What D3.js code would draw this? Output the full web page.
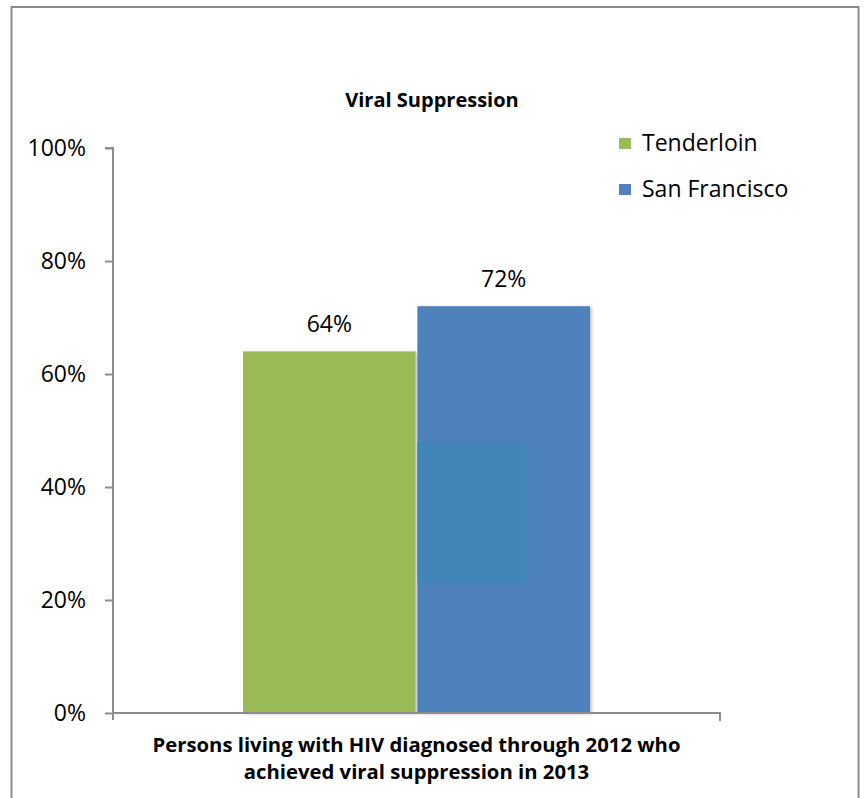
<!DOCTYPE html>
<html>
<head>
<meta charset="utf-8">
<script src="https://cdn.jsdelivr.net/npm/d3@7"></script>
<style>
  html, body { margin: 0; padding: 0; background: #fff; }
  svg { display: block; font-family: "Open Sans", sans-serif; }
</style>
</head>
<body>
<svg id="chart" width="864" height="798"></svg>
<script>
// Chart data
const category = "Persons living with HIV diagnosed through 2012 who achieved viral suppression in 2013";
const categoryLines = ["Persons living with HIV diagnosed through 2012 who", "achieved viral suppression in 2013"];
const seriesNames = ["Tenderloin", "San Francisco"];
const seriesValues = [0.64, 0.72];
const seriesColors = ["#9bbb59", "#4f81bd"];
const tickValues = [0, 0.2, 0.4, 0.6, 0.8, 1.0];
const titleText = "Viral Suppression";

const svg = d3.select("#chart");
const axisColor = "#8c8c8c";

// soft drop shadow for bars
const defs = svg.append("defs");
const f = defs.append("filter").attr("id", "shadow")
  .attr("x", "-10%").attr("y", "-10%").attr("width", "130%").attr("height", "130%");
f.append("feDropShadow").attr("dx", 2).attr("dy", 1).attr("stdDeviation", 1.5)
  .attr("flood-color", "#000").attr("flood-opacity", 0.22);

// frame
svg.append("rect")
  .attr("x", 11.5).attr("y", 7).attr("width", 847).attr("height", 800)
  .attr("fill", "none").attr("stroke", axisColor).attr("stroke-width", 2);

const y = d3.scaleLinear().domain([0, 1]).range([713, 148]);
const x0 = d3.scaleBand().domain([category]).range([113, 720]).paddingInner(0).paddingOuter(0.3746);
const x1 = d3.scaleBand().domain(seriesNames).range([0, x0.bandwidth()]).paddingInner(0.01);

// y axis
const yAxis = d3.axisLeft(y).tickValues(tickValues).tickFormat(d3.format(".0%")).tickSize(8).tickPadding(19);
const gy = svg.append("g").attr("transform", "translate(113,0)").call(yAxis);
gy.select(".domain").attr("stroke", axisColor).attr("stroke-width", 2).attr("d", "M-8,148H0V713");
gy.selectAll(".tick line").attr("stroke", axisColor).attr("stroke-width", 2);
gy.selectAll(".tick text").attr("font-size", 23).attr("fill", "#000").attr("font-family", "'Open Sans', sans-serif");

// bars
const g = svg.append("g").attr("transform", `translate(${x0(category)},0)`);
g.selectAll("rect.bar").data(seriesNames.map((n, i) => ({ n, v: seriesValues[i], c: seriesColors[i] })))
  .join("rect").attr("class", "bar")
  .attr("x", d => x1(d.n)).attr("width", x1.bandwidth())
  .attr("y", d => y(d.v)).attr("height", d => y(0) - y(d.v))
  .attr("fill", d => d.c).attr("filter", "url(#shadow)");

// inner highlight panel on the second bar
g.append("rect")
  .attr("x", x1(seriesNames[1]))
  .attr("width", x1.bandwidth() * 0.635)
  .attr("y", y(0.48)).attr("height", y(0.23) - y(0.48))
  .attr("fill", "#4285b8");

// value labels
g.selectAll("text.val").data(seriesNames.map((n, i) => ({ n, v: seriesValues[i] })))
  .join("text").attr("class", "val")
  .attr("x", d => x1(d.n) + x1.bandwidth() / 2)
  .attr("y", d => y(d.v) - 19)
  .attr("text-anchor", "middle").attr("font-size", 23).attr("fill", "#000")
  .text(d => d3.format(".0%")(d.v));

// x axis line with end ticks
svg.append("path").attr("d", "M113,713H720V721 M113,713V720")
  .attr("fill", "none").attr("stroke", axisColor).attr("stroke-width", 2);

// category label
const cx = x0(category) + x0.bandwidth() / 2;
svg.append("text").attr("x", cx).attr("y", 752)
  .attr("text-anchor", "middle").attr("font-size", 20.3).attr("font-weight", "bold")
  .selectAll("tspan").data(categoryLines).join("tspan")
  .attr("x", cx).attr("dy", (d, i) => i ? 27 : 0).text(d => d);

// title
svg.append("text").attr("x", 432).attr("y", 107).attr("text-anchor", "middle")
  .attr("font-size", 20).attr("font-weight", "bold").text(titleText);

// legend
const leg = svg.append("g").attr("transform", "translate(619,138)");
const li = leg.selectAll("g").data(seriesNames).join("g")
  .attr("transform", (d, i) => `translate(0,${i * 46})`);
li.append("rect").attr("width", 12).attr("height", 11).attr("fill", (d, i) => seriesColors[i]);
li.append("text").attr("x", 23).attr("y", 13).attr("font-size", 23).text(d => d);
</script>
</body>
</html>
